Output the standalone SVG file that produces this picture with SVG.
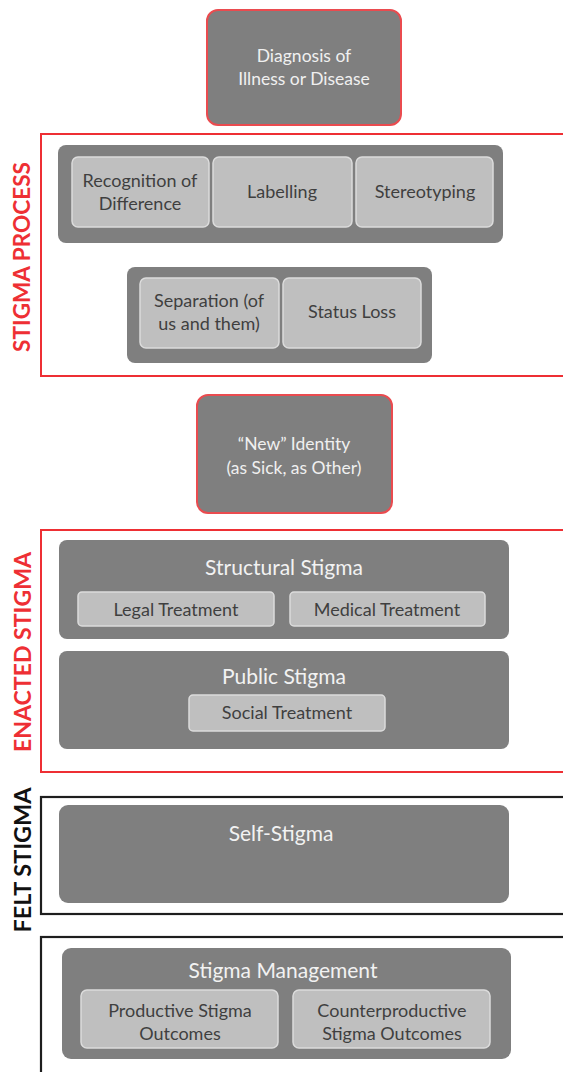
<svg xmlns="http://www.w3.org/2000/svg" width="563" height="1072" viewBox="0 0 563 1072">
  <style>
    .node { fill: #7f7f7f; }
    .key { fill: #7f7f7f; stroke: #ea4b4f; stroke-width: 2; }
    .item { fill: #bfbfbf; stroke: #dcdcdc; stroke-width: 1.5; }
    .frame-red { fill: none; stroke: #ee2f34; stroke-width: 2; }
    .frame-dark { fill: none; stroke: #1e1e1e; stroke-width: 2.2; }
    text { font-family: Lato, "Open Sans", "Liberation Sans", sans-serif; text-anchor: middle; }
    .light { fill: #f0f0f0; font-size: 17.5px; }
    .title { fill: #f2f2f2; font-size: 21px; }
    .dark { fill: #3f3f3f; font-size: 18px; }
    .side { font-size: 22px; font-weight: bold; }
  </style>

  <!-- section frames and side labels -->
  <g id="frames">
    <rect class="frame-red" x="41" y="134" width="540" height="242"/>
    <rect class="frame-red" x="41" y="530" width="540" height="242"/>
    <rect class="frame-dark" x="41" y="797" width="540" height="117"/>
    <rect class="frame-dark" x="41" y="937" width="540" height="160"/>
    <text class="side" fill="#ee2f34" transform="translate(30,257) rotate(-90)" textLength="190" lengthAdjust="spacingAndGlyphs">STIGMA PROCESS</text>
    <text class="side" fill="#ee2f34" transform="translate(31,652) rotate(-90)" textLength="200" lengthAdjust="spacingAndGlyphs">ENACTED STIGMA</text>
    <text class="side" fill="#111111" transform="translate(31,860) rotate(-90)" textLength="145" lengthAdjust="spacingAndGlyphs">FELT STIGMA</text>
  </g>

  <g id="connectors"></g>

  <g id="diagnosis">
    <rect class="key" x="207" y="10" width="194" height="115" rx="11"/>
    <text class="light" x="304" y="62">Diagnosis of</text>
    <text class="light" x="304" y="85">Illness or Disease</text>
  </g>

  <g id="process-top">
    <rect class="node" x="58" y="145" width="445" height="98" rx="8"/>
  </g>
  <g id="recognition">
    <rect class="item" x="72" y="157" width="137" height="70" rx="6"/>
    <text class="dark" x="140" y="187">Recognition of</text>
    <text class="dark" x="140" y="210">Difference</text>
  </g>
  <g id="labelling">
    <rect class="item" x="213" y="157" width="139" height="70" rx="6"/>
    <text class="dark" x="282" y="198">Labelling</text>
  </g>
  <g id="stereotyping">
    <rect class="item" x="356" y="157" width="137" height="70" rx="6"/>
    <text class="dark" x="425" y="198">Stereotyping</text>
  </g>

  <g id="process-bottom">
    <rect class="node" x="127" y="267" width="305" height="96" rx="8"/>
  </g>
  <g id="separation">
    <rect class="item" x="140" y="278" width="139" height="70" rx="6"/>
    <text class="dark" x="209" y="307">Separation (of</text>
    <text class="dark" x="209" y="330">us and them)</text>
  </g>
  <g id="status-loss">
    <rect class="item" x="283" y="278" width="138" height="70" rx="6"/>
    <text class="dark" x="352" y="318">Status Loss</text>
  </g>

  <g id="new-identity">
    <rect class="key" x="197" y="395" width="195" height="118" rx="11"/>
    <text class="light" x="294" y="450">“New” Identity</text>
    <text class="light" x="294" y="474">(as Sick, as Other)</text>
  </g>

  <g id="structural-stigma">
    <rect class="node" x="59" y="540" width="450" height="99" rx="8"/>
    <text class="title" x="284" y="575">Structural Stigma</text>
  </g>
  <g id="legal-treatment">
    <rect class="item" x="78" y="592" width="196" height="34" rx="4"/>
    <text class="dark" x="176" y="616">Legal Treatment</text>
  </g>
  <g id="medical-treatment">
    <rect class="item" x="290" y="592" width="195" height="34" rx="4"/>
    <text class="dark" x="387" y="616">Medical Treatment</text>
  </g>

  <g id="public-stigma">
    <rect class="node" x="59" y="651" width="450" height="98" rx="8"/>
    <text class="title" x="284" y="684">Public Stigma</text>
  </g>
  <g id="social-treatment">
    <rect class="item" x="189" y="695" width="196" height="36" rx="4"/>
    <text class="dark" x="287" y="719">Social Treatment</text>
  </g>

  <g id="self-stigma">
    <rect class="node" x="59" y="805" width="450" height="98" rx="9"/>
    <text class="title" x="281" y="841">Self-Stigma</text>
  </g>

  <g id="stigma-management">
    <rect class="node" x="62" y="948" width="449" height="111" rx="9"/>
    <text class="title" x="283" y="978">Stigma Management</text>
  </g>
  <g id="productive-outcomes">
    <rect class="item" x="81" y="990" width="197" height="58" rx="6"/>
    <text class="dark" x="180" y="1017">Productive Stigma</text>
    <text class="dark" x="180" y="1040">Outcomes</text>
  </g>
  <g id="counterproductive-outcomes">
    <rect class="item" x="293" y="990" width="197" height="58" rx="6"/>
    <text class="dark" x="392" y="1017">Counterproductive</text>
    <text class="dark" x="392" y="1040">Stigma Outcomes</text>
  </g>
</svg>
